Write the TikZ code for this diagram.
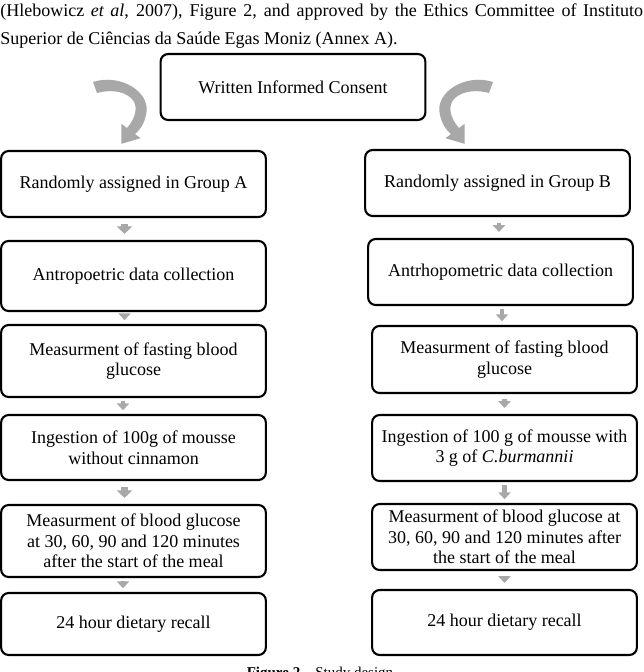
\documentclass[tikz,border=0pt]{standalone}
\usepackage{fontspec}
\setmainfont{Liberation Serif}
\usepackage{tikz}
\usetikzlibrary{arrows.meta}
\usepackage{xcolor}
\definecolor{arrowgray}{RGB}{168,168,168}

\begin{document}
\begin{tikzpicture}[x=0.6667pt, y=-0.6667pt,
        box/.style={draw, line width=1.4pt, rounded corners=5pt, align=center,
            minimum width=176.5pt, inner ysep=2pt, font=\fontsize{12}{13.8}\selectfont},
        flow/.style={draw=arrowgray, line width=3pt, -{Triangle[width=8pt,length=4.5pt]},
            shorten <=2pt, shorten >=2.5pt},
        bigflow/.style={flow, line width=5pt, -{Triangle[width=10pt,length=5pt]},
            shorten <=4pt, shorten >=4pt}]

		\useasboundingbox (0,0) rectangle (643,672);
		\clip (0,0) rectangle (643,672);

		% text of the page around the figure
		\node [anchor=base west, inner sep=0pt, font=\fontsize{12}{18}\selectfont] (line1) at (0,16)
		      {\makebox[428.6pt][s]{(Hlebowicz \textit{et al}, 2007), Figure 2, and approved by the Ethics Committee of Instituto}};
		\node [anchor=base west, inner sep=0pt, font=\fontsize{12}{18}\selectfont] (line2) at (0,44)
		      {Superior de Ciências da Saúde Egas Moniz (Annex A).};
		\node [anchor=base, inner sep=0pt, font=\fontsize{10}{12}\selectfont] (caption) at (320,677)
		      {\textbf{Figure 2} -- Study design};

		\node (C) [box, minimum height=44pt] at (293,87) {Written Informed Consent};

		% group A
		\node (A1) [box, minimum height=44pt] at (133.5,184) {Randomly assigned in Group A};
		\node (A2) [box, minimum height=46.7pt] at (133.5,276) {Antropoetric data collection};
		\node (A3) [box, minimum height=48pt] at (133.5,361) {Measurment of fasting blood\\glucose};
		\node (A4) [box, minimum height=43.3pt] at (133.5,447.5) {Ingestion of 100g of mousse\\without cinnamon};
		\node (A5) [box, minimum height=48pt] at (133.5,541) {Measurment of blood glucose\\at 30, 60, 90 and 120 minutes\\after the start of the meal};
		\node (A6) [box, minimum height=41.3pt] at (133.5,624) {24 hour dietary recall};

		% group B
		\node (B1) [box, minimum height=44pt] at (497.5,183) {Randomly assigned in Group B};
		\node (B2) [box, minimum height=44pt] at (500.5,272) {Antrhopometric data collection};
		\node (B3) [box, minimum height=44.7pt] at (504.5,359.5) {Measurment of fasting blood\\glucose};
		\node (B4) [box, minimum height=44pt] at (504.5,448) {Ingestion of 100 g of mousse with\\3 g of \textit{C.burmannii}};
		\node (B5) [box, minimum height=44pt] at (504.5,537) {Measurment of blood glucose at\\30, 60, 90 and 120 minutes after\\the start of the meal};
		\node (B6) [box, minimum height=43.3pt] at (504.5,622.5) {24 hour dietary recall};

		% curved arrows from the consent box, the right one mirrored
		\foreach \s/\o in {1/0, -1/586} {
			\fill [arrowgray, shift={(\o,0)}, xscale=\s]
			      (93,82) .. controls (120,73) and (152,92) .. (146,115)
			      .. controls (144,124) and (140,130) .. (135,134)
			      -- (140.6,138.2) -- (121.4,143.8) -- (121.4,123.8) -- (127,128)
			      .. controls (136,118) and (139,105) .. (131,98)
			      .. controls (122,90) and (108,90) .. (97,93) -- cycle;
		}

		\draw [bigflow] ([xshift=-6pt]A1.south) -- ([xshift=-6pt]A2.north);
		\draw [flow] ([xshift=-6pt]A2.south) -- ([xshift=-6pt]A3.north);
		\draw [flow] ([xshift=-7pt]A3.south) -- ([xshift=-7pt]A4.north);
		\draw [bigflow] ([xshift=-6pt]A4.south) -- ([xshift=-6pt]A5.north);
		\draw [flow] ([xshift=-7pt]A5.south) -- ([xshift=-7pt]A6.north);

		\draw [flow, shorten <=4pt, shorten >=4pt] ([xshift=1pt]B1.south) -- ([xshift=1pt]B1.south |- B2.north);
		\draw [flow] ([xshift=1pt]B2.south) -- ([xshift=1pt]B2.south |- B3.north);
		\draw [flow, shorten <=3pt, shorten >=4pt] (B3.south) -- (B4.north);
		\draw [flow] (B4.south) -- (B5.north);
		\draw [flow, shorten <=3pt, shorten >=4pt] (B5.south) -- (B6.north);
	\end{tikzpicture}
\end{document}
